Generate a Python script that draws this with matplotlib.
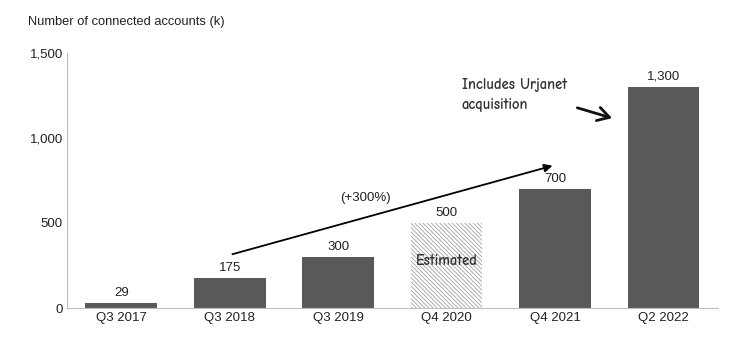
import matplotlib.pyplot as plt
import numpy as np

plt.rcParams['font.family'] = ['Liberation Sans', 'DejaVu Sans']

quarters = ['Q3 2017', 'Q3 2018', 'Q3 2019', 'Q4 2020', 'Q4 2021', 'Q2 2022']
accounts = [29, 175, 300, 500, 700, 1300]
value_labels = ['29', '175', '300', '500', '700', '1,300']
estimated = [False, False, False, True, False, False]
yticks = [0, 500, 1000, 1500]
ytick_labels = ['0', '500', '1,000', '1,500']

bar_color = '#595959'
hatch_color = '#a0a0a0'

fig = plt.figure(figsize=(7.47, 3.46), dpi=100)
ax = fig.add_axes([0.0897, 0.1098, 0.8713, 0.7372])

plt.rcParams['hatch.color'] = hatch_color
plt.rcParams['hatch.linewidth'] = 0.6

x = np.arange(len(quarters))
for i, (v, est) in enumerate(zip(accounts, estimated)):
    if est:
        ax.bar(i, v, width=0.66, color='white', hatch='\\' * 8,
               edgecolor=hatch_color, linewidth=0)
    else:
        ax.bar(i, v, width=0.66, color=bar_color)
    ax.text(i, v + 25, value_labels[i], ha='center', va='bottom', fontsize=9.5, color='#222222')

ax.set_xlim(-0.5, 5.5)
ax.set_ylim(0, 1500)
ax.set_xticks(x)
ax.set_xticklabels(quarters, fontsize=9.5, color='#222222')
ax.set_yticks(yticks)
ax.set_yticklabels(ytick_labels, fontsize=9.5, color='#222222')
ax.tick_params(length=0, pad=3)
for s in ['top', 'right']:
    ax.spines[s].set_visible(False)
for s in ['left', 'bottom']:
    ax.spines[s].set_color('#bfbfbf')
    ax.spines[s].set_linewidth(0.8)

fig.text(28 / 747, 1 - 22 / 346, 'Number of connected accounts (k)', fontsize=9.3,
         va='center', ha='left', color='#222222')

# growth arrow
ax.annotate('', xy=(4.0, 841), xytext=(1.0, 312),
            arrowprops=dict(arrowstyle='-|>', color='black', lw=1.3, mutation_scale=12))
ax.text(2.25, 647, '(+300%)', ha='center', va='center', fontsize=9.5, color='#222222')

hand = ['Comic Neue', 'Humor Sans', 'DejaVu Sans']
ax.text(3, 276, 'Estimated', ha='center', va='center', fontsize=10.5, color='#333333',
        family=hand, fontweight='bold')

ax.text(3.14, 1312, 'Includes Urjanet', ha='left', va='center', fontsize=10.5,
        color='#333333', family=hand, fontweight='bold')
ax.text(3.14, 1194, 'acquisition', ha='left', va='center', fontsize=10.5,
        color='#333333', family=hand, fontweight='bold')
ax.annotate('', xy=(4.55, 1112), xytext=(4.18, 1182),
            arrowprops=dict(arrowstyle='->,head_length=0.6,head_width=0.35',
                            color='#111111', lw=2.0, mutation_scale=14))

fig.savefig('out.png', dpi=100)
